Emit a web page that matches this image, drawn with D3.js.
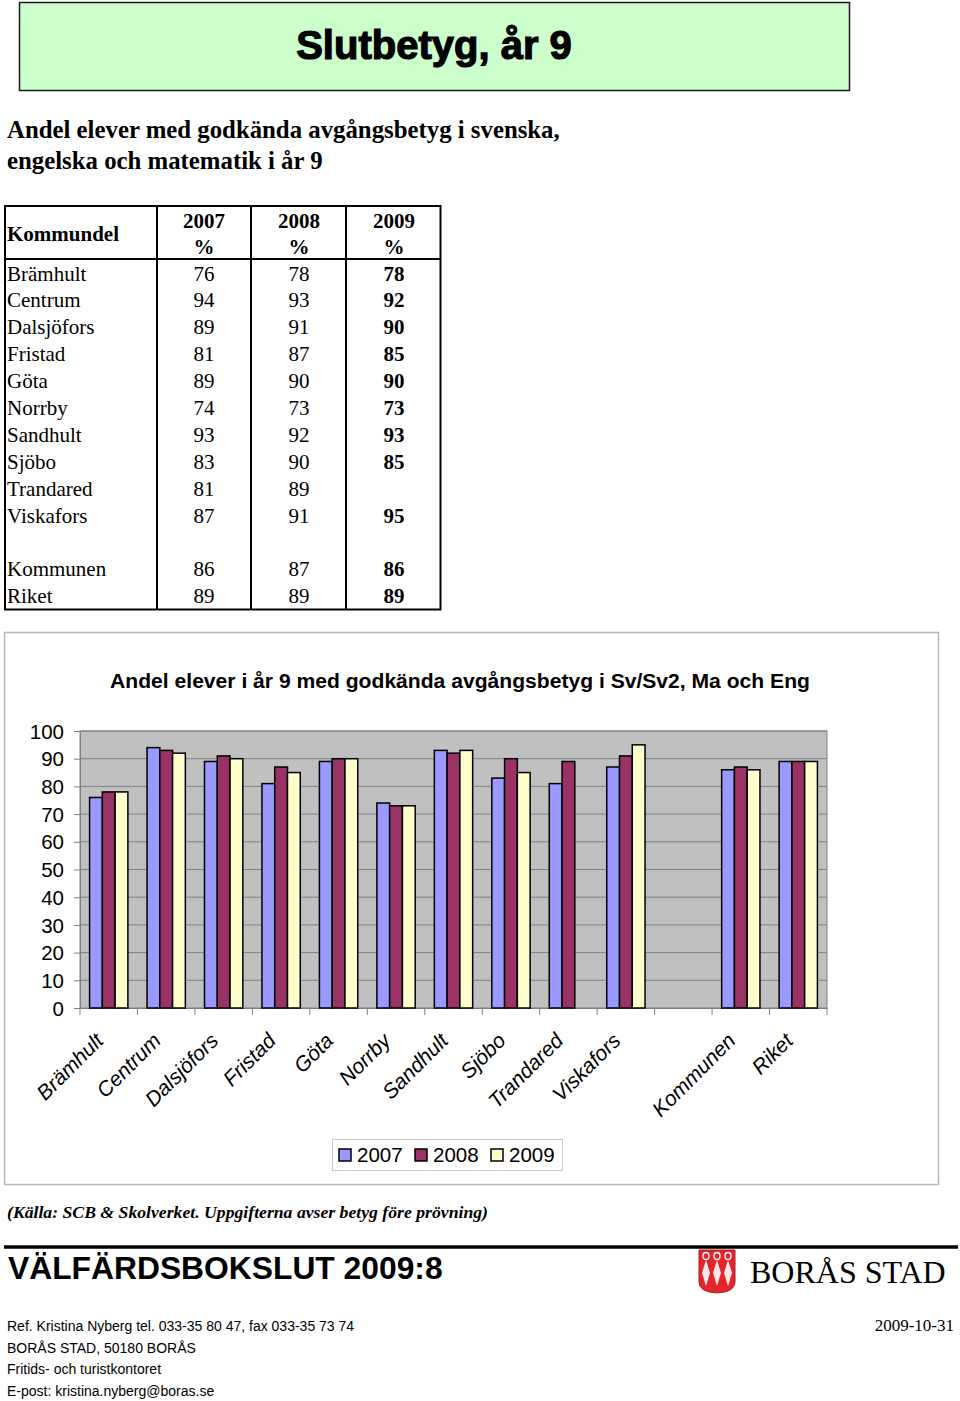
<!DOCTYPE html>
<html><head><meta charset="utf-8">
<script src="https://cdn.jsdelivr.net/npm/d3@7"></script>
<style>body{margin:0;background:#fff}svg{display:block}</style>
</head><body>
<svg id="c" width="960" height="1401"></svg>
<script>
// ---- data ----
const districts = ["Brämhult","Centrum","Dalsjöfors","Fristad","Göta","Norrby","Sandhult","Sjöbo","Trandared","Viskafors","","Kommunen","Riket"];
const years = ["2007","2008","2009"];
const v2007 = [76,94,89,81,89,74,93,83,81,87,null,86,89];
const v2008 = [78,93,91,87,90,73,92,90,89,91,null,87,89];
const v2009 = [78,92,90,85,90,73,93,85,null,95,null,86,89];
const yTicks = [0,10,20,30,40,50,60,70,80,90,100];
const seriesColors = ["#9999ff","#993366","#ffffcc"];

const svg = d3.select("#c");
const serif = "'Liberation Serif','Times New Roman',serif";
const sans = "'Liberation Sans',Arial,sans-serif";

// ---- header box ----
svg.append("rect").attr("x",19.5).attr("y",2.5).attr("width",830).attr("height",88)
  .attr("fill","#ccffcc").attr("stroke","#1a1a1a").attr("stroke-width",1.5);
svg.append("text").attr("x",434).attr("y",59).attr("text-anchor","middle")
  .attr("font-family",sans).attr("font-weight","bold").attr("font-size",40)
  .attr("stroke","#000").attr("stroke-width",1.2).text("Slutbetyg, år 9");

svg.append("text").attr("x",7).attr("y",138).attr("font-family",serif).attr("font-weight","bold").attr("font-size",24.8).text("Andel elever med godkända avgångsbetyg i svenska,");
svg.append("text").attr("x",7).attr("y",169).attr("font-family",serif).attr("font-weight","bold").attr("font-size",24.8).text("engelska och matematik i år 9");

// ---- table ----
const tbl = svg.append("g");
const colC = [0,204,299,394];
const rowStart = 280.5, rowStep = 26.9;
tbl.append("rect").attr("x",5).attr("y",206).attr("width",435.5).attr("height",403.5).attr("fill","none").attr("stroke","#000").attr("stroke-width",2);
[157,251,346].forEach(x=>tbl.append("line").attr("x1",x).attr("x2",x).attr("y1",206).attr("y2",609.5).attr("stroke","#000").attr("stroke-width",2));
tbl.append("line").attr("x1",5).attr("x2",440.5).attr("y1",259).attr("y2",259).attr("stroke","#000").attr("stroke-width",2);
tbl.append("text").attr("x",7).attr("y",241).attr("font-family",serif).attr("font-weight","bold").attr("font-size",21).text("Kommundel");
years.forEach((y,i)=>{
  tbl.append("text").attr("x",colC[i+1]).attr("y",228).attr("text-anchor","middle").attr("font-family",serif).attr("font-weight","bold").attr("font-size",21).text(y);
  tbl.append("text").attr("x",colC[i+1]).attr("y",254).attr("text-anchor","middle").attr("font-family",serif).attr("font-weight","bold").attr("font-size",21).text("%");
});
const tableVals=[v2007,v2008,v2009];
districts.forEach((d,r)=>{
  if(!d) return;
  const by = rowStart + r*rowStep;
  tbl.append("text").attr("x",7).attr("y",by).attr("font-family",serif).attr("font-size",21).text(d);
  tableVals.forEach((arr,i)=>{
    if(arr[r]==null) return;
    tbl.append("text").attr("x",colC[i+1]).attr("y",by).attr("text-anchor","middle").attr("font-family",serif)
      .attr("font-weight", i===2?"bold":"normal").attr("font-size",21).text(arr[r]);
  });
});

// ---- chart ----
svg.append("rect").attr("x",4.5).attr("y",632.5).attr("width",934).attr("height",552).attr("fill","#fff").attr("stroke","#b8b8b8").attr("stroke-width",1.5);
svg.append("text").attr("x",460).attr("y",688).attr("text-anchor","middle").attr("font-family",sans).attr("font-weight","bold").attr("font-size",21.1)
  .text("Andel elever i år 9 med godkända avgångsbetyg i Sv/Sv2, Ma och Eng");

const L=80, R=827, T=731, B=1008;
const x = d3.scaleBand().domain(districts).range([L,R]).paddingInner(0).paddingOuter(0);
const xs = d3.scaleBand().domain(years).range([0,x.bandwidth()]).paddingInner(0).paddingOuter(0.75);
const y = d3.scaleLinear().domain([0,100]).range([B,T]);

svg.append("rect").attr("x",L).attr("y",T).attr("width",R-L).attr("height",B-T).attr("fill","#c0c0c0");
const grid = svg.append("g");
yTicks.filter(t=>t>0).forEach(t=>grid.append("line").attr("x1",L).attr("x2",R).attr("y1",y(t)).attr("y2",y(t)).attr("stroke","#808080").attr("stroke-width",1));
svg.append("rect").attr("x",L).attr("y",T).attr("width",R-L).attr("height",B-T).attr("fill","none").attr("stroke","#808080").attr("stroke-width",1);

const yAxis = svg.append("g").attr("transform",`translate(${L},0)`).call(d3.axisLeft(y).tickValues(yTicks).tickSize(6).tickPadding(10));
yAxis.select(".domain").attr("stroke","#808080");
yAxis.selectAll(".tick line").attr("stroke","#808080");
yAxis.selectAll("text").attr("font-family",sans).attr("font-size",20.5).attr("fill","#000").attr("dy","0.35em");

const xAxis = svg.append("g").attr("transform",`translate(0,${B})`).call(d3.axisBottom(x).tickSize(0).tickFormat(""));
xAxis.select(".domain").attr("stroke","#808080");
d3.range(districts.length+1).forEach(i=>{
  const xx = L + i*x.step();
  svg.append("line").attr("x1",xx).attr("x2",xx).attr("y1",B).attr("y2",B+7).attr("stroke","#808080");
});

const seriesVals=[v2007,v2008,v2009];
const bars = svg.append("g");
districts.forEach((d,i)=>{
  years.forEach((yr,j)=>{
    const v = seriesVals[j][i];
    if(v==null) return;
    bars.append("rect").attr("x",x(d)+xs(yr)).attr("y",y(v)).attr("width",xs.bandwidth()).attr("height",y(0)-y(v))
      .attr("fill",seriesColors[j]).attr("stroke","#000").attr("stroke-width",1.5);
  });
});

// category labels
districts.forEach(d=>{
  if(!d) return;
  const cx = x(d)+x.bandwidth()/2;
  svg.append("text").attr("transform",`translate(${cx-4},${B+34}) rotate(-45)`).attr("text-anchor","end")
    .attr("font-family",sans).attr("font-style","italic").attr("font-size",21).text(d);
});

// legend
const lg = svg.append("g");
lg.append("rect").attr("x",332.5).attr("y",1139.5).attr("width",230).attr("height",31).attr("fill","#fff").attr("stroke","#c8c8c8");
years.forEach((yr,j)=>{
  const lx = 339 + j*76;
  lg.append("rect").attr("x",lx).attr("y",1149).attr("width",12).attr("height",12).attr("fill",seriesColors[j]).attr("stroke","#000").attr("stroke-width",1.5);
  lg.append("text").attr("x",lx+18).attr("y",1162).attr("font-family",sans).attr("font-size",20.5).text(yr);
});

// ---- footer ----
svg.append("text").attr("x",7).attr("y",1218).attr("font-family",serif).attr("font-weight","bold").attr("font-style","italic").attr("font-size",17.7)
  .text("(Källa: SCB & Skolverket. Uppgifterna avser betyg före prövning)");
svg.append("line").attr("x1",4).attr("x2",958).attr("y1",1247).attr("y2",1247).attr("stroke","#000").attr("stroke-width",3.5);
svg.append("text").attr("x",8).attr("y",1279).attr("font-family",sans).attr("font-weight","bold").attr("font-size",31.8).text("VÄLFÄRDSBOKSLUT 2009:8");

// logo
const logo = svg.append("g");
logo.append("path").attr("d","M699,1250 L735,1250 L735,1282 Q735,1292 717,1293 Q699,1292 699,1282 Z").attr("fill","#e3262b").attr("stroke","#b01c20");
[706,717,728].forEach(lx=>{
  logo.append("ellipse").attr("cx",lx).attr("cy",1256).attr("rx",3).attr("ry",3.5).attr("fill","none").attr("stroke","#fff").attr("stroke-width",1.3);
  logo.append("path").attr("d",`M${lx},1260 L${lx+4},1273 L${lx},1286 L${lx-4},1273 Z`).attr("fill","#fff").attr("opacity",0.9);
});
svg.append("text").attr("x",750).attr("y",1283).attr("font-family",serif).attr("font-size",32).text("BORÅS STAD");

const fl = ["Ref. Kristina Nyberg tel. 033-35 80 47, fax 033-35 73 74","BORÅS STAD, 50180 BORÅS","Fritids- och turistkontoret","E-post: kristina.nyberg@boras.se"];
fl.forEach((t,i)=>svg.append("text").attr("x",7).attr("y",1331+i*21.7).attr("font-family",sans).attr("font-size",14).text(t));
svg.append("text").attr("x",954).attr("y",1331).attr("text-anchor","end").attr("font-family",serif).attr("font-size",17).text("2009-10-31");
</script>
</body></html>
